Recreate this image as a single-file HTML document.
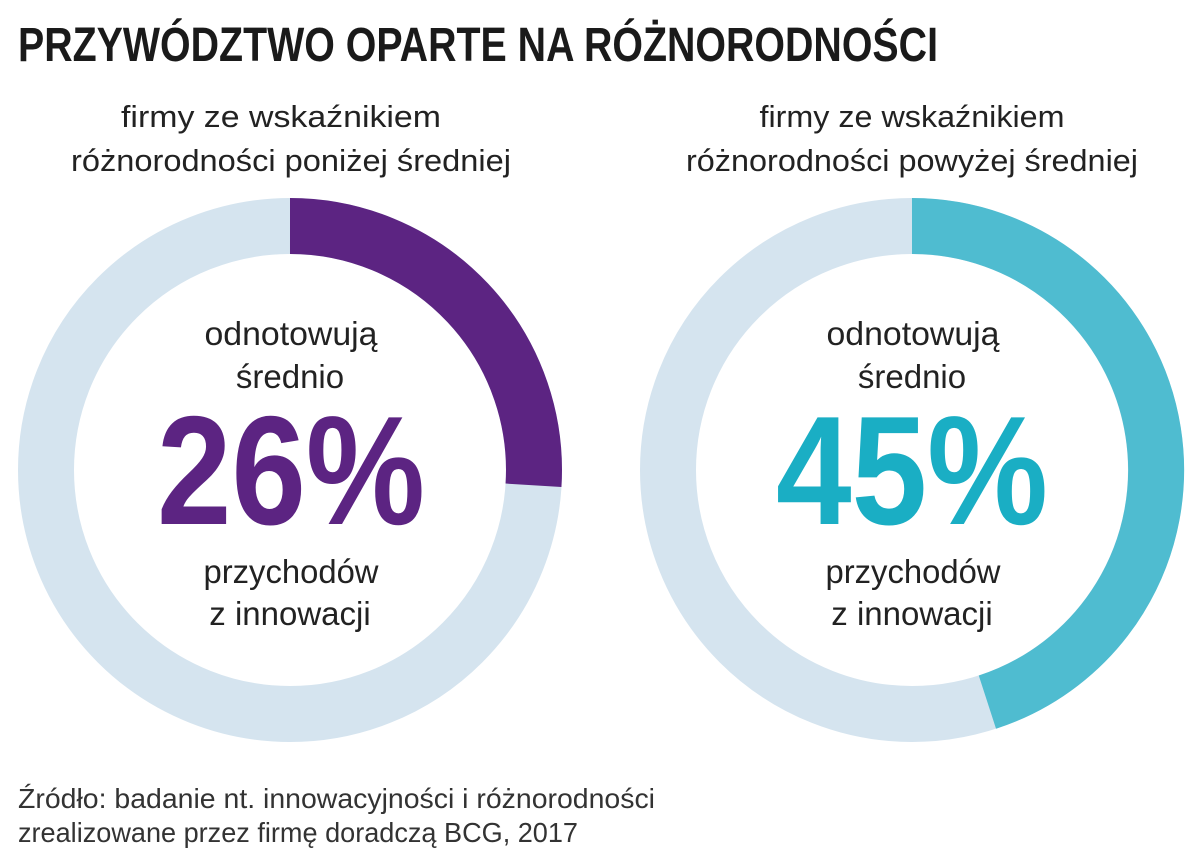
<!DOCTYPE html>
<html><head><meta charset="utf-8"><style>
html,body{margin:0;padding:0;background:#fff;}
svg{display:block}
</style></head><body>
<svg width="1200" height="862" viewBox="0 0 1200 862" xmlns="http://www.w3.org/2000/svg">
<text x="18" y="61" font-family="'Liberation Sans Narrow','Liberation Sans',sans-serif" font-weight="bold" font-size="48" fill="#1a1a1a" textLength="920" lengthAdjust="spacingAndGlyphs">PRZYWÓDZTWO OPARTE NA RÓŻNORODNOŚCI</text>
<g font-family="'Liberation Sans',sans-serif" fill="#222" font-size="31" text-anchor="middle">
<text x="281" y="127" textLength="320" lengthAdjust="spacingAndGlyphs">firmy ze wskaźnikiem</text>
<text x="291" y="171" textLength="440" lengthAdjust="spacingAndGlyphs">różnorodności poniżej średniej</text>
<text x="912" y="127" textLength="305" lengthAdjust="spacingAndGlyphs">firmy ze wskaźnikiem</text>
<text x="912" y="171" textLength="452" lengthAdjust="spacingAndGlyphs">różnorodności powyżej średniej</text>
</g>
<circle cx="290" cy="470" r="244" fill="none" stroke="#d5e4ef" stroke-width="56"/>
<path d="M290 226 A244 244 0 0 1 533.5 485.3" fill="none" stroke="#5c2482" stroke-width="56"/>
<circle cx="912" cy="470" r="244" fill="none" stroke="#d5e4ef" stroke-width="56"/>
<path d="M912 226 A244 244 0 0 1 987.4 702.1" fill="none" stroke="#4fbcd0" stroke-width="56"/>
<g font-family="'Liberation Sans',sans-serif" fill="#222" font-size="33" text-anchor="middle">
<text x="291" y="345" textLength="173" lengthAdjust="spacingAndGlyphs">odnotowują</text>
<text x="290" y="388">średnio</text>
<text x="291" y="583" textLength="175" lengthAdjust="spacingAndGlyphs">przychodów</text>
<text x="290" y="625">z innowacji</text>
<text x="913" y="345" textLength="173" lengthAdjust="spacingAndGlyphs">odnotowują</text>
<text x="912" y="388">średnio</text>
<text x="913" y="583" textLength="175" lengthAdjust="spacingAndGlyphs">przychodów</text>
<text x="912" y="625">z innowacji</text>
</g>
<g font-family="'Liberation Sans',sans-serif" font-weight="bold" font-size="155" text-anchor="middle">
<text x="291" y="524" fill="#5c2482" textLength="268" lengthAdjust="spacingAndGlyphs">26%</text>
<text x="912" y="524" fill="#1aaec4" textLength="272" lengthAdjust="spacingAndGlyphs">45%</text>
</g>
<g font-family="'Liberation Sans',sans-serif" fill="#333" font-size="28">
<text x="18" y="808" textLength="637" lengthAdjust="spacingAndGlyphs">Źródło: badanie nt. innowacyjności i różnorodności</text>
<text x="18" y="842" textLength="560" lengthAdjust="spacingAndGlyphs">zrealizowane przez firmę doradczą BCG, 2017</text>
</g>
</svg>
</body></html>
